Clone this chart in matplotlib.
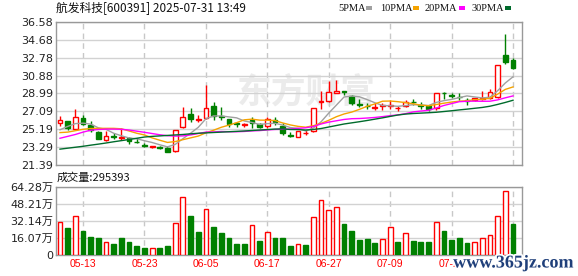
import matplotlib
matplotlib.use("Agg")
import matplotlib.pyplot as plt
import matplotlib.patheffects as pe
from matplotlib.patches import Rectangle
import numpy as np

# ---- data ----
title = "航发科技[600391] 2025-07-31 13:49"
last_volume = 295393

opens = [25.89, 26.07, 25.26, 26.35, 25.61, 24.91, 24.06, 24.45, 24.27, 24.24,
         23.87, 23.53, 23.30, 23.32, 23.25, 22.90, 25.40, 26.77, 26.17, 26.35,
         27.65, 26.56, 26.28, 25.84, 25.70, 26.17, 25.72, 25.54, 26.17, 25.54,
         24.59, 24.41, 24.77, 25.01, 28.05, 28.21, 29.06, 29.20, 28.77, 27.85,
         27.68, 27.47, 27.65, 27.70, 27.40, 27.65, 28.12, 27.72, 27.65, 27.40,
         29.09, 28.80, 28.66, 28.31, 28.28, 28.45, 28.56, 28.63, 33.03, 32.57]
highs = [26.59, 26.10, 27.33, 26.70, 26.07, 25.00, 25.05, 24.77, 25.29, 24.41,
         24.24, 23.78, 23.46, 23.40, 23.43, 25.15, 27.58, 27.44, 26.66, 29.93,
         28.10, 27.51, 26.31, 25.93, 25.89, 26.45, 25.82, 26.45, 26.45, 25.82,
         24.94, 25.05, 25.12, 27.47, 29.23, 30.29, 30.39, 29.23, 28.84, 28.42,
         27.93, 27.93, 27.93, 28.28, 27.65, 28.28, 28.38, 28.10, 27.75, 29.09,
         29.16, 29.06, 29.09, 28.52, 28.56, 29.23, 29.51, 32.04, 35.31, 32.78]
lows = [25.54, 25.12, 25.19, 25.65, 24.94, 24.13, 23.99, 24.13, 24.06, 23.64,
        23.71, 23.36, 23.18, 23.11, 22.76, 22.83, 25.29, 25.99, 25.99, 26.24,
        26.17, 26.17, 25.47, 25.47, 25.40, 25.29, 25.29, 25.33, 25.61, 24.59,
        24.41, 24.38, 24.59, 24.94, 27.30, 28.07, 28.99, 28.80, 27.75, 27.51,
        27.37, 27.23, 27.23, 27.30, 27.16, 27.51, 27.75, 27.30, 27.16, 27.23,
        28.38, 28.52, 28.28, 27.79, 28.21, 28.28, 28.45, 28.56, 32.15, 31.59]
closes = [26.17, 25.29, 26.45, 25.71, 25.12, 24.20, 24.48, 24.38, 24.35, 23.99,
          23.82, 23.42, 23.43, 23.18, 22.83, 25.12, 26.45, 26.30, 26.28, 27.40,
          26.63, 26.45, 25.79, 25.77, 25.75, 25.82, 25.40, 26.24, 25.93, 24.84,
          24.50, 25.01, 24.84, 27.44, 28.15, 29.13, 29.23, 29.13, 27.93, 27.78,
          27.65, 27.54, 27.72, 27.76, 27.44, 28.07, 28.05, 27.65, 27.33, 29.06,
          29.02, 28.74, 28.59, 28.24, 28.49, 28.52, 29.13, 32.04, 32.32, 31.73]

ma5 = [25.15, 25.50, 25.80, 25.85, 25.75, 25.35, 25.19, 24.78, 24.51, 24.28,
       24.20, 23.99, 23.80, 23.56, 23.34, 23.60, 24.20, 24.78, 25.40, 26.31,
       26.61, 26.61, 26.51, 26.41, 26.08, 25.92, 25.71, 25.80, 25.83, 25.65,
       25.38, 25.30, 25.02, 25.33, 25.99, 26.91, 27.76, 28.62, 28.71, 28.64,
       28.34, 28.01, 27.72, 27.69, 27.63, 27.71, 27.80, 27.78, 27.71, 28.04,
       28.23, 28.36, 28.55, 28.73, 28.62, 28.52, 28.59, 29.28, 30.10, 30.75]
ma10 = [24.85, 24.90, 25.05, 25.20, 25.28, 25.30, 25.30, 25.30, 25.25, 25.02,
        24.78, 24.60, 24.29, 24.04, 23.81, 23.90, 24.10, 24.29, 24.48, 24.82,
        25.10, 25.41, 25.64, 25.90, 26.20, 26.27, 26.17, 26.16, 26.12, 25.87,
        25.66, 25.51, 25.42, 25.58, 25.82, 26.15, 26.53, 26.82, 27.02, 27.31,
        27.63, 27.88, 28.17, 28.19, 28.12, 28.02, 27.90, 27.75, 27.69, 27.82,
        27.96, 28.08, 28.17, 28.22, 28.33, 28.37, 28.48, 28.92, 29.42, 29.68]
ma20 = [24.25, 24.45, 24.65, 24.90, 25.10, 25.18, 25.22, 25.22, 25.20, 25.12,
        25.00, 24.88, 24.75, 24.62, 24.52, 24.48, 24.50, 24.60, 24.75, 24.90,
        24.92, 24.96, 24.94, 24.94, 24.97, 25.03, 25.06, 25.13, 25.18, 25.20,
        25.23, 25.30, 25.36, 25.50, 25.76, 25.96, 26.10, 26.24, 26.32, 26.34,
        26.39, 26.45, 26.54, 26.64, 26.72, 26.85, 27.04, 27.13, 27.21, 27.45,
        27.72, 27.92, 28.12, 28.16, 28.18, 28.16, 28.17, 28.31, 28.53, 28.73]
ma30 = [23.10, 23.20, 23.30, 23.40, 23.52, 23.63, 23.75, 23.88, 24.00, 24.12,
        24.25, 24.38, 24.45, 24.50, 24.55, 24.60, 24.65, 24.72, 24.78, 24.82,
        24.86, 24.90, 24.94, 24.98, 25.02, 25.07, 25.12, 25.17, 25.22, 25.24,
        25.18, 25.17, 25.12, 25.18, 25.28, 25.44, 25.60, 25.76, 25.88, 26.00,
        26.13, 26.27, 26.41, 26.56, 26.71, 26.81, 26.87, 26.91, 26.95, 27.00,
        27.08, 27.16, 27.25, 27.33, 27.42, 27.51, 27.64, 27.83, 28.04, 28.27]

# volume in 万, and whether the bar is red (close up vs previous close)
volumes = [30.7, 25.7, 36.4, 22.6, 17.2, 16.0, 11.9, 10.3, 16.0, 12.2,
           8.8, 6.6, 6.6, 6.6, 8.5, 29.8, 54.3, 36.7, 21.6, 43.0,
           26.3, 20.7, 16.0, 10.3, 10.3, 27.9, 13.2, 21.3, 16.0, 16.0,
           8.5, 10.0, 9.4, 35.4, 51.4, 42.0, 44.8, 29.2, 22.6, 14.1,
           15.1, 11.3, 14.7, 26.3, 12.2, 20.4, 13.2, 12.2, 12.2, 30.7,
           22.6, 14.1, 16.0, 11.3, 11.9, 15.7, 18.5, 36.4, 59.9, 29.54]
vol_up = [1, 0, 1, 0, 0, 0, 1, 0, 0, 0,
          0, 0, 1, 0, 0, 1, 1, 0, 0, 1,
          0, 0, 0, 0, 0, 1, 0, 1, 0, 0,
          0, 1, 0, 1, 1, 1, 1, 0, 0, 0,
          0, 0, 1, 1, 0, 1, 0, 0, 0, 1,
          0, 0, 0, 0, 1, 1, 1, 1, 1, 0]

price_ticks = [21.39, 23.29, 25.19, 27.09, 28.99, 30.88, 32.78, 34.68, 36.58]
vol_ticks = [0, 16.07, 32.14, 48.21, 64.28]
vol_tick_labels = ["0", "16.07万", "32.14万", "48.21万", "64.28万"]
date_labels = ["05-13", "05-23", "06-05", "06-17", "06-27", "07-09", "07-21", "07-31"]
date_pos = [3, 11, 19, 27, 35, 43, 51, 59]

ma_names = ["5PMA", "10PMA", "20PMA", "30PMA"]

# ---- style ----
RED = "#ff0000"
GREEN = "#008000"
ma_colors = ["#a0a0a0", "#f5a300", "#ff00ff", "#006b2c"]
CJK = ["Noto Sans CJK SC", "DejaVu Sans"]
NUM = ["DejaVu Sans", "Noto Sans CJK SC"]

W, H = 578, 276
fig = plt.figure(figsize=(W / 100, H / 100), dpi=100)


def px_axes(l, t, r, b):
    return fig.add_axes([l / W, 1 - b / H, (r - l) / W, (b - t) / H])


ax = px_axes(56, 21.7, 522, 165.3)
axv = px_axes(56, 186.7, 522, 255)

x = np.arange(len(closes))
o = np.array(opens)
c = np.array(closes)
up = c >= o

for a in (ax, axv):
    a.set_xlim(-0.52, 60.17)
    for s in a.spines.values():
        s.set_color("#999999")
        s.set_linewidth(1)
    a.set_xticks(date_pos)
    a.tick_params(length=0)
    a.grid(axis="x", color="#c8c8c8", lw=1, ls=(0, (4, 3)), zorder=0)
    a.grid(axis="y", color="#d2d2d2", lw=1, zorder=0)
    a.set_axisbelow(True)

# candles
ax.set_ylim(price_ticks[0], price_ticks[-1])
ax.set_yticks(price_ticks)
ax.set_yticklabels([f"{v:.2f}" for v in price_ticks], fontsize=8, color="#222222")
ax.tick_params(axis="y", pad=2)
ax.set_xticklabels([])

# faint site watermark
ax.text(0.388, 0.51, "东方财富", transform=ax.transAxes, fontsize=25,
        family=CJK, fontweight="bold", color="#ebebeb", ha="left",
        va="center", zorder=0.5)

ax.vlines(x, lows, highs, colors=[RED if u else GREEN for u in up], lw=1, zorder=2)
body = np.maximum(np.abs(c - o), 0.03)
ax.bar(x[up], body[up], bottom=o[up], width=0.62, facecolor="white",
       edgecolor=RED, lw=1, zorder=3)
ax.bar(x[~up], body[~up], bottom=c[~up], width=0.62, facecolor=GREEN,
       edgecolor=GREEN, lw=1, zorder=3)

for vals, col in zip([ma5, ma10, ma20, ma30], ma_colors):
    ax.plot(x, vals, color=col, lw=1.0, zorder=4)

# volume
vu = np.array(vol_up) == 1
v = np.array(volumes)
axv.bar(x[vu], v[vu], width=0.62, facecolor="white", edgecolor=RED, lw=1, zorder=3)
axv.bar(x[~vu], v[~vu], width=0.62, facecolor=GREEN, edgecolor=GREEN, lw=1, zorder=3)
axv.set_ylim(0, vol_ticks[-1])
axv.set_yticks(vol_ticks)
axv.set_yticklabels(vol_tick_labels, fontsize=8, color="#222222", family=NUM)
axv.tick_params(axis="y", pad=2)
axv.set_xticklabels(date_labels, fontsize=7.5, color=RED, family="Liberation Sans")
axv.tick_params(axis="x", pad=3)

# header texts
fig.text(56 / W, 1 - 8.5 / H, title, fontsize=8.5, family=CJK, color="#111111",
         ha="left", va="center")
legend_x = [338, 380, 425, 471.5]
box_x = [366, 413, 459, 505]
for name, col, tx, bx in zip(ma_names, ma_colors, legend_x, box_x):
    fig.text(tx / W, 1 - 8.7 / H, name, fontsize=7.5, family="Liberation Serif",
             color="#111111", ha="left", va="center")
    fig.add_artist(Rectangle((bx / W, 1 - 10 / H), 5.5 / W, 3.5 / H,
                             transform=fig.transFigure, color=col, lw=0))

fig.text(57 / W, 1 - 177.5 / H, f"成交量:{last_volume}", fontsize=8, family=CJK,
         color="#111111", ha="left", va="center")

# overlay stamp in the bottom-right corner (covers part of the last date label)
fig.text(513 / W, 1 - 263 / H, "www.365jz.com", fontsize=13, fontweight="bold",
         family="Liberation Serif", color="#1f3f7a", ha="center", va="center",
         path_effects=[pe.withStroke(linewidth=2.5, foreground="white")])

fig.savefig("out.png", dpi=100)
